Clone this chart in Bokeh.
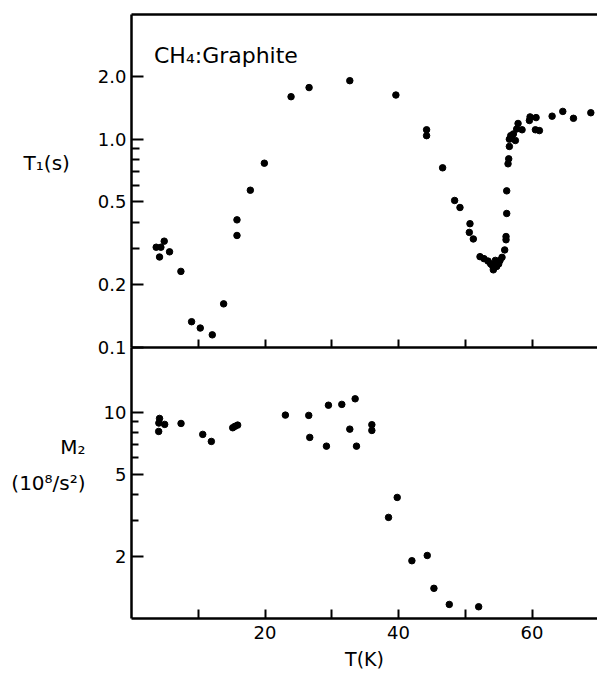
from bokeh.plotting import figure
from bokeh.layouts import column
from bokeh.models import Range1d, FixedTicker, LinearAxis, Label, PrintfTickFormatter
from bokeh.embed import file_html
from bokeh.resources import INLINE

# ---- data ----
t1_temp = [3.7, 4.4, 4.9, 4.2, 5.7, 7.4, 9.0, 10.3, 12.1, 13.8, 15.8, 15.8, 17.8, 19.9,
           23.9, 26.6, 32.7, 39.6, 44.2, 44.2, 46.6, 48.4, 49.2, 50.7, 50.6, 51.2,
           52.2, 52.8, 53.4, 53.8, 54.1, 54.2, 54.5, 54.7, 55.0, 55.2, 55.5, 55.9,
           56.1, 56.1, 56.2, 56.2, 56.4, 56.5, 56.6, 56.6, 56.8, 57.2, 57.5, 57.7,
           57.9, 58.5, 59.6, 59.7, 60.6, 60.5, 61.1, 63.0, 64.6, 66.2, 68.8]
t1_vals = [0.303, 0.303, 0.324, 0.272, 0.288, 0.232, 0.133, 0.124, 0.115, 0.162, 0.41, 0.345,
           0.569, 0.767, 1.60, 1.77, 1.91, 1.63, 1.11, 1.04, 0.729, 0.508, 0.470, 0.393,
           0.357, 0.332, 0.273, 0.267, 0.260, 0.252, 0.246, 0.236, 0.262, 0.245, 0.252,
           0.262, 0.271, 0.294, 0.329, 0.341, 0.44, 0.565, 0.762, 0.805, 0.923, 1.00,
           1.04, 1.06, 0.986, 1.12, 1.19, 1.11, 1.23, 1.28, 1.27, 1.11, 1.10, 1.29,
           1.36, 1.26, 1.34]

m2_temp = [4.07, 4.2, 4.1, 4.97, 7.42, 10.67, 11.96, 15.16, 15.5, 15.9, 23.05, 26.55,
           26.7, 29.2, 29.5, 31.5, 32.7, 33.5, 33.7, 36.0, 36.0, 39.8, 38.5, 42.0,
           44.3, 45.3, 47.6, 52.0]
m2_vals = [8.06, 9.32, 8.85, 8.72, 8.81, 7.8, 7.21, 8.4, 8.53, 8.65, 9.67, 9.64,
           7.54, 6.84, 10.8, 10.9, 8.27, 11.6, 6.84, 8.69, 8.15, 3.86, 3.09, 1.905,
           2.02, 1.40, 1.17, 1.14]

x_major = [20, 40, 60]
x_minor = [10, 30, 50]
t1_ticks = [0.1, 0.2, 0.5, 1.0, 2.0]
t1_minor = [0.3, 0.4, 0.6, 0.7, 0.8, 0.9]
m2_ticks = [2, 5, 10]
m2_minor = [3, 4, 6, 7, 8, 9]

FONT = "DejaVu Sans"
X_END = 69.8


def style_axis(ax):
    ax.axis_line_width = 2.5
    ax.axis_line_color = "black"
    ax.major_tick_line_width = 2
    ax.minor_tick_line_width = 2
    ax.major_tick_line_color = "black"
    ax.minor_tick_line_color = "black"
    ax.major_tick_out = 0
    ax.minor_tick_out = 0
    ax.major_label_text_font = FONT
    ax.major_label_text_color = "black"
    ax.axis_label_text_font = FONT
    ax.axis_label_text_font_style = "normal"
    ax.axis_label_text_color = "black"


# ---------------- top panel ----------------
p1 = figure(width=597, height=359, x_range=Range1d(0, X_END), y_range=Range1d(0.1, 3.97),
            y_axis_type="log", output_backend="svg", toolbar_location=None,
            min_border_left=131, min_border_right=0, min_border_top=14, min_border_bottom=12)
p1.outline_line_color = None
p1.grid.visible = False
p1.scatter(t1_temp, t1_vals, size=6.5, color="black")

ya = p1.yaxis[0]
style_axis(ya)
ya.ticker = FixedTicker(ticks=t1_ticks, minor_ticks=t1_minor)
ya.formatter = PrintfTickFormatter(format="%.1f")
ya.major_tick_in = 12
ya.minor_tick_in = 8
ya.major_label_text_font_size = "18px"
ya.major_label_standoff = 5
ya.axis_label = "T₁(s)\n"
ya.axis_label_orientation = "horizontal"
ya.axis_label_text_font_size = "20px"
ya.axis_label_text_line_height = 1.5
ya.axis_label_standoff = 25

xa = p1.xaxis[0]
style_axis(xa)
xa.ticker = FixedTicker(ticks=x_minor + x_major)
xa.major_tick_in = 8
xa.minor_tick_line_color = None
xa.major_label_text_font_size = "1px"
xa.major_label_text_color = None
xa.major_label_standoff = 0

top = LinearAxis(ticker=FixedTicker(ticks=[]))
style_axis(top)
top.major_tick_in = 0
top.minor_tick_in = 0
top.major_label_text_font_size = "1px"
top.major_label_text_color = None
top.major_label_standoff = 0
p1.add_layout(top, "above")

p1.add_layout(Label(x=3.37, y=2.52, text="CH₄:Graphite", text_font=FONT,
                    text_font_size="22px", text_align="left", text_baseline="alphabetic",
                    text_color="black"))

# ---------------- bottom panel ----------------
p2 = figure(width=597, height=328, x_range=Range1d(0, X_END), y_range=Range1d(1.0, 20.56),
            y_axis_type="log", output_backend="svg", toolbar_location=None,
            min_border_left=131, min_border_right=0, min_border_top=0, min_border_bottom=57,
            margin=(-12, 0, 0, 0))
p2.outline_line_color = None
p2.grid.visible = False
p2.background_fill_alpha = 0
p2.border_fill_alpha = 0
p2.scatter(m2_temp, m2_vals, size=6.5, color="black")

yb = p2.yaxis[0]
style_axis(yb)
yb.ticker = FixedTicker(ticks=m2_ticks, minor_ticks=m2_minor)
yb.formatter = PrintfTickFormatter(format="%d")
yb.major_tick_in = 12
yb.minor_tick_in = 7
yb.major_label_text_font_size = "18px"
yb.major_label_standoff = 5
yb.axis_label = "M₂\n(10⁸/s²)\n"
yb.axis_label_orientation = "horizontal"
yb.axis_label_text_font_size = "20px"
yb.axis_label_text_line_height = 1.5
yb.axis_label_standoff = 15

xb = p2.xaxis[0]
style_axis(xb)
xb.ticker = FixedTicker(ticks=x_major, minor_ticks=x_minor)
xb.major_tick_in = 9
xb.minor_tick_in = 9
xb.major_label_text_font_size = "18px"
xb.major_label_standoff = 7
xb.axis_label = "T(K)"
xb.axis_label_text_font_size = "19px"
xb.axis_label_standoff = 6

layout = column(p1, p2, spacing=0)
open("out.html", "w").write(file_html(layout, INLINE))
